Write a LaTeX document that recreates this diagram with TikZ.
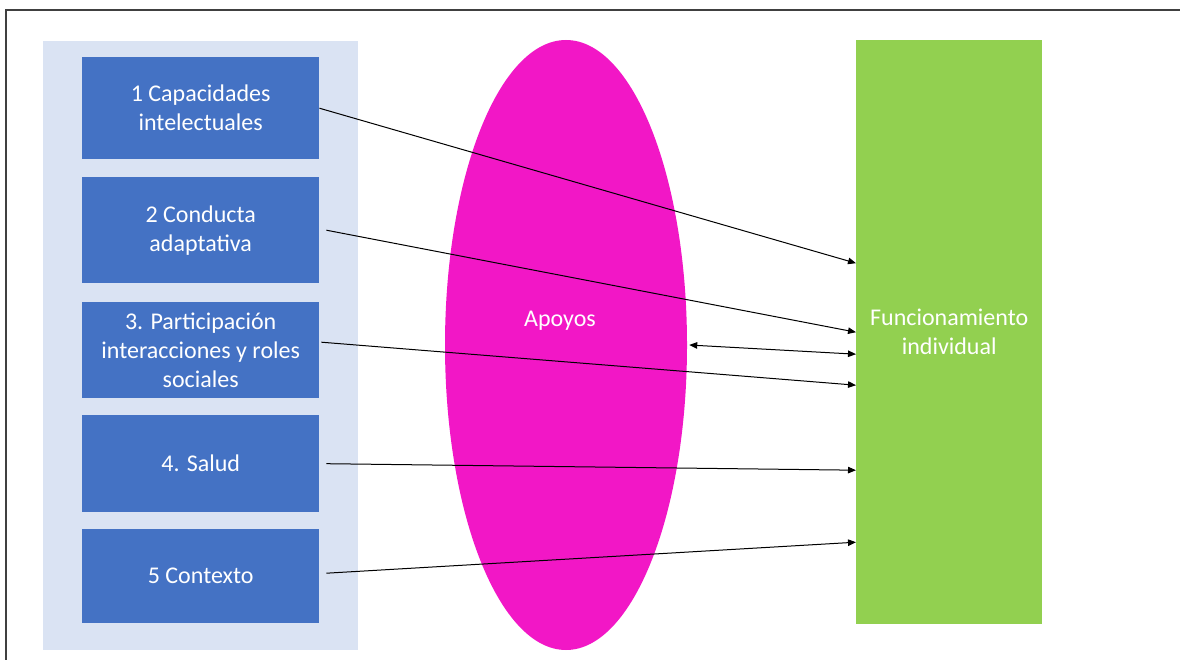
\documentclass[tikz,border=0pt]{standalone}
\usepackage{fontspec}
\setmainfont{Carlito}
\usetikzlibrary{shapes.geometric,arrows.meta}
\definecolor{panel}{HTML}{DAE3F3}
\definecolor{boxblue}{HTML}{4472C4}
\definecolor{apoyo}{HTML}{F217C6}
\definecolor{verde}{HTML}{92D050}
\definecolor{frame}{HTML}{404040}
\begin{document}
\begin{tikzpicture}[x=1pt,y=-1pt,
  txt/.style={text=white,font=\fontsize{24}{29}\selectfont,align=center},
  bbox/.style={fill=boxblue,draw=none,minimum width=237pt,inner sep=0pt,anchor=north west,txt},
  conn/.style={line width=1pt,-{Triangle[length=8pt,width=6.5pt]}},
  dconn/.style={line width=1pt,{Triangle[length=8pt,width=6.5pt]}-{Triangle[length=8pt,width=6.5pt]}}]
\useasboundingbox (0,0) rectangle (1180,660);
\draw[frame,line width=1.5pt] (6,662) -- (6,10) -- (1182,10);
\node[fill=panel,draw=none,minimum width=315pt,minimum height=609pt,inner sep=0pt,anchor=north west] (panel) at (43,41) {};
\node[bbox,minimum height=102pt] (b1) at (82,57) {1 Capacidades\\intelectuales};
\node[bbox,minimum height=106pt] (b2) at (82,177) {2 Conducta\\adaptativa};
\node[bbox,minimum height=96pt] (b3) at (82,302) {3. Participación\\interacciones y roles\\sociales};
\node[bbox,minimum height=97pt] (b4) at (82,415) {4. Salud};
\node[bbox,minimum height=94pt] (b5) at (82,529) {5 Contexto};
\node[ellipse,fill=apoyo,draw=none,minimum width=242pt,minimum height=610pt,inner sep=0pt] (ap) at (566,345) {};
\node[txt] (apt) at (560,321) {Apoyos};
\node[fill=verde,draw=none,minimum width=186pt,minimum height=584pt,inner sep=0pt,anchor=north west,txt] (g) at (856,40) {Funcionamiento\\individual};
\draw[conn] (b1.east) -- ([yshift=69pt]g.west);
\draw[conn] ([xshift=7pt]b2.east) -- (g.west);
\draw[dconn] ([xshift=2pt]ap.east) -- ([yshift=-22pt]g.west);
\draw[conn] ([xshift=2pt,yshift=8pt]b3.east) -- ([yshift=-53pt]g.west);
\draw[conn] ([xshift=7pt]b4.east) -- ([yshift=-138pt]g.west);
\draw[conn] ([xshift=7pt,yshift=3pt]b5.east) -- ([yshift=-210pt]g.west);
\end{tikzpicture}
\end{document}
